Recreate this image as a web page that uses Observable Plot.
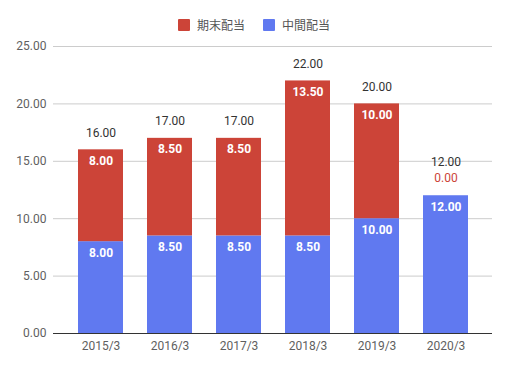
<!DOCTYPE html>
<html><head><meta charset="utf-8">
<script src="https://cdn.jsdelivr.net/npm/d3@7"></script>
<script src="https://cdn.jsdelivr.net/npm/@observablehq/plot@0.6"></script>
<style>
body{margin:0;background:#fff;font-family:Roboto,"Noto Sans CJK JP",sans-serif;}
#legend{height:40px;position:relative;font-size:12px;color:#555;}
.item{position:absolute;top:16px;display:flex;align-items:center;}
.sw{width:12px;height:12px;border-radius:1px;margin-right:7px;}
</style></head><body>
<div id="legend"></div>
<div id="chart"></div>
<script>
const years = ["2015/3","2016/3","2017/3","2018/3","2019/3","2020/3"];
const interim = [8.00, 8.50, 8.50, 8.50, 10.00, 12.00];   // 中間配当
const yearEnd = [8.00, 8.50, 8.50, 13.50, 10.00, 0.00];   // 期末配当
const seriesNames = ["期末配当", "中間配当"];
const yTicks = [0, 5, 10, 15, 20, 25];
const RED = "#cc4438", BLUE = "#6079f0";

const rows = [];
years.forEach((y, i) => {
  rows.push({year: y, series: "中間配当", value: interim[i], top: interim[i]});
  rows.push({year: y, series: "期末配当", value: yearEnd[i], top: interim[i] + yearEnd[i]});
});
const totals = years.map((y, i) => ({year: y, total: interim[i] + yearEnd[i], zeroEnd: yearEnd[i] === 0}));
const fmt = d => d.toFixed(2);

const leg = document.getElementById("legend");
[["期末配当", RED, 178], ["中間配当", BLUE, 263]].forEach(([n, c, x]) => {
  const d = document.createElement("div");
  d.className = "item"; d.style.left = x + "px";
  d.innerHTML = `<div class="sw" style="background:${c}"></div><span>${n}</span>`;
  leg.appendChild(d);
});

const chart = Plot.plot({
  width: 507, height: 329,
  marginTop: 6, marginBottom: 36, marginLeft: 53, marginRight: 15,
  style: {fontFamily: 'Roboto, "Noto Sans CJK JP", sans-serif', fontSize: "12px", color: "#5f5f5f"},
  x: {domain: years, padding: 0.35, label: null, tickSize: 0, tickPadding: 8},
  y: {domain: [0, 25], ticks: yTicks, tickFormat: fmt, label: null, tickSize: 0, tickPadding: 7},
  color: {domain: seriesNames, range: [RED, BLUE]},
  marks: [
    Plot.ruleY(yTicks.filter(t => t > 0), {stroke: "#ccc", strokeWidth: 1}),
    Plot.barY(rows, {x: "year", y: "value", fill: "series", order: ["中間配当", "期末配当"]}),
    Plot.ruleY([0], {stroke: "#333", strokeWidth: 1.2}),
    Plot.text(rows.filter(d => d.value > 0), {x: "year", y: "top", text: d => fmt(d.value), dy: 11, fill: "white", fontWeight: "bold", fontSize: 12}),
    Plot.text(rows.filter(d => d.value === 0), {x: "year", y: "top", text: d => fmt(d.value), dy: -18, fill: RED, fontSize: 12}),
    Plot.text(totals.filter(d => !d.zeroEnd), {x: "year", y: "total", text: d => fmt(d.total), dy: -17, fill: "#333", fontSize: 12}),
    Plot.text(totals.filter(d => d.zeroEnd), {x: "year", y: "total", text: d => fmt(d.total), dy: -34, fill: "#333", fontSize: 12})
  ]
});
document.getElementById("chart").appendChild(chart);
</script>
</body></html>
